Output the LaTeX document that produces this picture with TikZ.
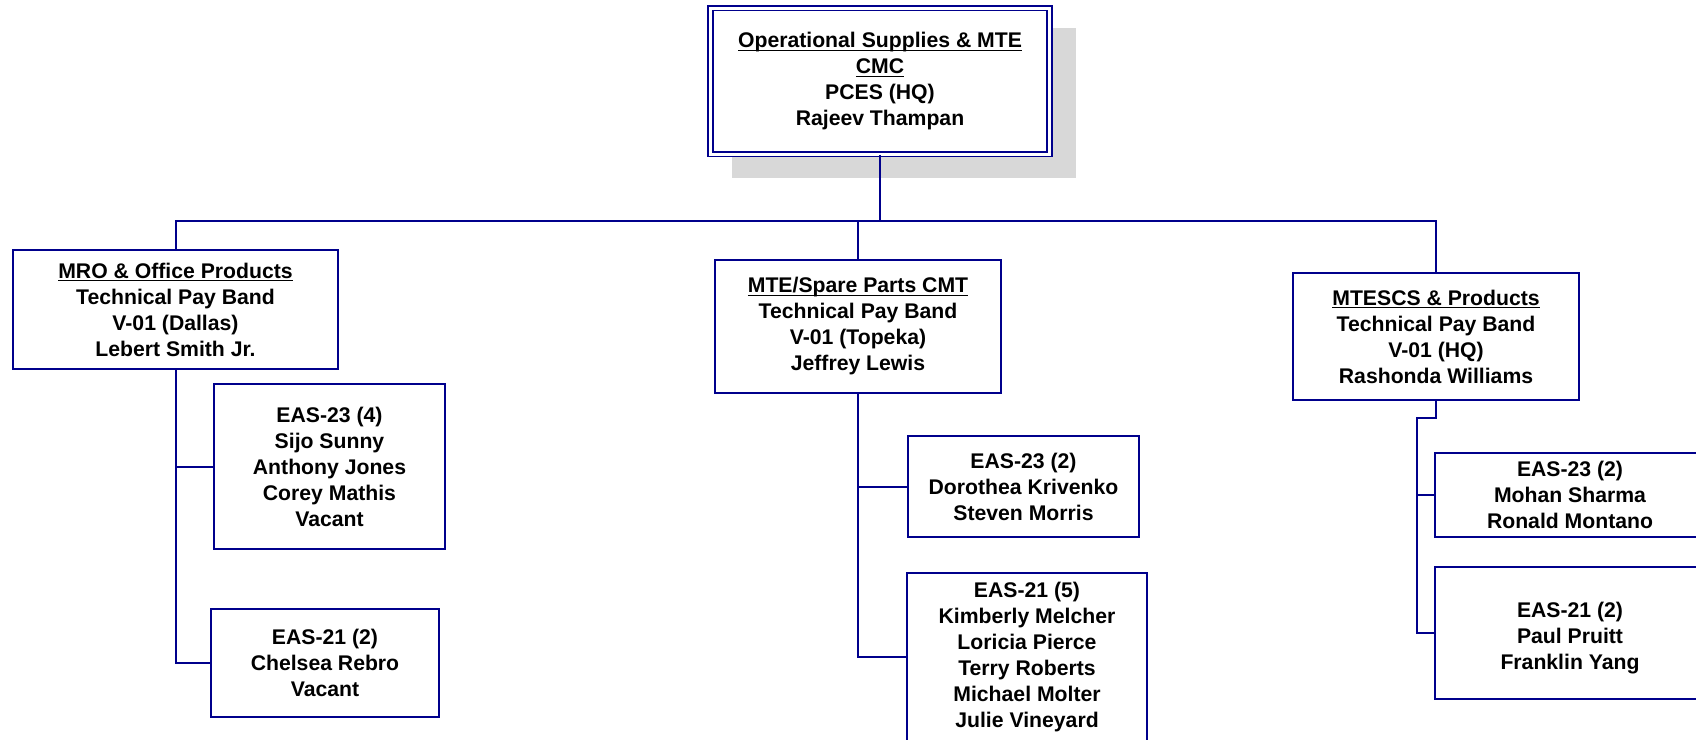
\documentclass[tikz,border=0pt]{standalone}
\usepackage{fontspec}
\setmainfont{Liberation Sans}
\definecolor{navy}{RGB}{0,0,140}
\definecolor{shadowgray}{RGB}{216,216,216}
\newcommand\hdul[1]{\underline{\raisebox{0pt}[\height][0pt]{#1}}\vphantom{p}}
\tikzset{
  box/.style={draw=navy, line width=1pt, fill=white, inner sep=0pt, align=center,
    font=\fontsize{10.6pt}{13pt}\selectfont\bfseries, text=black},
  link/.style={draw=navy, line width=1pt},
}
\begin{document}
\begin{tikzpicture}[x=0.5pt,y=-0.5pt]
\useasboundingbox (0,0) rectangle (1696,739);
\clip (0,0) rectangle (1696,739);
\fill[shadowgray] (732,28) rectangle (1076,178);
\node[box, minimum width=169.5pt, minimum height=73pt, double=white, double distance=1.5pt, line width=0.8pt] (top) at (880,81)
  {\hdul{Operational Supplies \& MTE}\\\hdul{CMC}\\PCES (HQ)\\Rajeev Thampan};
\node[box, minimum width=162.5pt, minimum height=59.5pt] (mro) at (175.5,309.5)
  {\hdul{MRO \& Office Products}\\Technical Pay Band\\V-01 (Dallas)\\Lebert Smith Jr.};
\node[box, minimum width=115.5pt, minimum height=82.5pt] (eas23l) at (329.5,466.5)
  {EAS-23 (4)\\Sijo Sunny\\Anthony Jones\\Corey Mathis\\Vacant};
\node[box, minimum width=114pt, minimum height=54pt] (eas21l) at (325,663)
  {EAS-21 (2)\\Chelsea Rebro\\Vacant};
\node[box, minimum width=143pt, minimum height=66.5pt] (mte) at (858,326.5)
  {\hdul{MTE/Spare Parts CMT}\\Technical Pay Band\\V-01 (Topeka)\\Jeffrey Lewis};
\node[box, minimum width=115.5pt, minimum height=50.5pt] (eas23m) at (1023.5,486.5)
  {EAS-23 (2)\\Dorothea Krivenko\\Steven Morris};
\node[box, minimum width=120pt, minimum height=84pt] (eas21m) at (1027,657)
  {EAS-21 (5)\\Kimberly Melcher\\Loricia Pierce\\Terry Roberts\\Michael Molter\\Julie Vineyard};
\node[box, minimum width=143pt, minimum height=63.5pt] (mtescs) at (1436,336.5)
  {\hdul{MTESCS \& Products}\\Technical Pay Band\\V-01 (HQ)\\Rashonda Williams};
\node[box, minimum width=135pt, minimum height=42pt] (eas23r) at (1570,495)
  {EAS-23 (2)\\Mohan Sharma\\Ronald Montano};
\node[box, minimum width=135pt, minimum height=66pt] (eas21r) at (1570,633)
  {~\\EAS-21 (2)\\Paul Pruitt\\Franklin Yang};
\coordinate (bar) at (880,221);
\coordinate (rk) at (1417,418);
\draw[link] (top.south) -- (bar);
\draw[link] (mro.north) |- (bar) -| (mtescs.north);
\draw[link] (mte.north) -- (mte.north |- bar);
\draw[link] (mro.south) |- (eas21l.west);
\draw[link] (mro.south |- eas23l.west) -- (eas23l.west);
\draw[link] (mte.south) |- (eas21m.west);
\draw[link] (mte.south |- eas23m.west) -- (eas23m.west);
\draw[link] (mtescs.south) |- (rk) |- (eas21r.west);
\draw[link] (rk |- eas23r.west) -- (eas23r.west);
\end{tikzpicture}
\end{document}
